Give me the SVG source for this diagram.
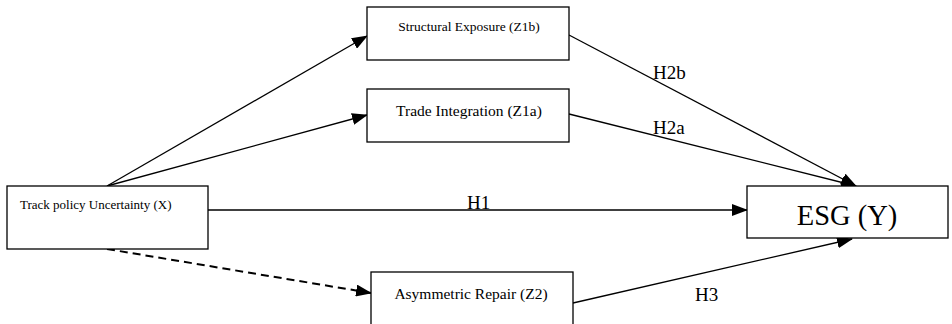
<svg xmlns="http://www.w3.org/2000/svg" width="952" height="324" viewBox="0 0 952 324">
<style>
.box{fill:#fff;stroke:#000;stroke-width:1.3}
.t{font-family:"Liberation Serif","Times New Roman",serif;fill:#000}
.ln{stroke:#000;stroke-width:1.3;fill:none}
.dash{stroke:#000;stroke-width:2;fill:none;stroke-dasharray:8 5}
</style>
<defs>
<marker id="ah" markerUnits="userSpaceOnUse" markerWidth="16" markerHeight="12" refX="15" refY="6" orient="auto">
<path d="M0,0 L16,6 L0,12 Z" fill="#000"/>
</marker>
</defs>
<rect width="952" height="324" fill="#fff"/>
<g id="connectors">
<line class="ln" x1="107" y1="186" x2="367" y2="36" marker-end="url(#ah)"/>
<line class="ln" x1="107" y1="186" x2="367" y2="115" marker-end="url(#ah)"/>
<line class="ln" x1="208" y1="210" x2="747" y2="210" marker-end="url(#ah)"/>
<line class="dash" x1="107" y1="249" x2="371" y2="293" marker-end="url(#ah)"/>
<line class="ln" x1="569" y1="35" x2="856" y2="186" marker-end="url(#ah)"/>
<line class="ln" x1="569" y1="114" x2="856" y2="186" marker-end="url(#ah)"/>
<line class="ln" x1="573" y1="303" x2="852" y2="239" marker-end="url(#ah)"/>
<text class="t" x="653" y="79" font-size="19">H2b</text>
<text class="t" x="653" y="134" font-size="19">H2a</text>
<text class="t" x="467" y="209" font-size="19">H1</text>
<text class="t" x="695" y="301" font-size="19">H3</text>
</g>
<g id="node-x">
<rect class="box" x="7" y="186" width="201" height="63"/>
<text class="t" x="20" y="209" font-size="13">Track policy Uncertainty (X)</text>
</g>
<g id="node-z1b">
<rect class="box" x="367" y="7" width="202" height="53"/>
<text class="t" x="469" y="31" font-size="13.5" text-anchor="middle">Structural Exposure (Z1b)</text>
</g>
<g id="node-z1a">
<rect class="box" x="367" y="89" width="202" height="53"/>
<text class="t" x="469" y="116" font-size="15.5" text-anchor="middle">Trade Integration (Z1a)</text>
</g>
<g id="node-z2">
<rect class="box" x="371" y="272" width="202" height="60"/>
<text class="t" x="471" y="299" font-size="15.5" text-anchor="middle">Asymmetric Repair (Z2)</text>
</g>
<g id="node-y">
<rect class="box" x="747" y="186" width="201" height="52"/>
<text class="t" x="847" y="225" font-size="28.5" text-anchor="middle">ESG (Y)</text>
</g>
</svg>
